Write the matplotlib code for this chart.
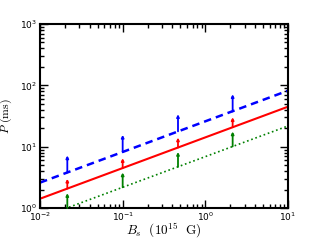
import numpy as np
import matplotlib
matplotlib.use("Agg")
import matplotlib.pyplot as plt

plt.rcParams['mathtext.fontset'] = 'cm'

# line end points (B_s in 1e15 G, P in ms)
B_LINE  = [0.01, 10.0]
P_BLUE  = [2.6, 82.0]
P_RED   = [1.42, 44.9]
P_GREEN = [0.69, 21.8]

# lower limits (arrows): position, base on line, tip
B_ARR      = [0.0214, 0.1, 0.467, 2.14]
BLUE_BASE  = [3.8, 8.2, 17.8, 37.5]
BLUE_TOP   = [7.2, 15.6, 33.8, 71.6]
RED_BASE   = [2.08, 4.49, 9.7, 20.8]
RED_TOP    = [3.0, 6.5, 14.1, 30.2]
GREEN_BASE = [1.0, 2.18, 4.7, 10.1]
GREEN_TOP  = [1.75, 3.8, 8.2, 17.7]

fig = plt.figure(figsize=(3.2, 2.4), dpi=100)
ax = fig.add_axes([0.125, 0.133, 0.775, 0.767])

ax.plot(B_LINE, P_BLUE, color='blue', ls='--', lw=1.8, dashes=(3, 2))
ax.plot(B_LINE, P_RED, color='red', ls='-', lw=1.5)
ax.plot(B_LINE, P_GREEN, color='green', ls=':', lw=1.2)

for base, top, c in [(BLUE_BASE, BLUE_TOP, 'blue'),
                     (RED_BASE, RED_TOP, 'red'),
                     (GREEN_BASE, GREEN_TOP, 'green')]:
    for b, p0, p1 in zip(B_ARR, base, top):
        ax.annotate('', xy=(b, p1), xytext=(b, p0),
                    arrowprops=dict(arrowstyle='-|>', color=c, lw=1.3,
                                    mutation_scale=3.5, shrinkA=0, shrinkB=0))

ax.set_xscale('log')
ax.set_yscale('log')
ax.set_xlim(1e-2, 1e1)
ax.set_ylim(1e0, 1e3)
ax.set_xlabel(r'$B_s\ \ (10^{15}\ \ {\rm G})$', fontsize=9.5)
ax.set_ylabel(r'$P\ ({\rm ms})$', fontsize=8.5)
ax.xaxis.set_label_coords(0.5, -0.065)
ax.yaxis.set_label_coords(-0.105, 0.5)
ax.tick_params(which='both', direction='in', top=True, right=True, labelsize=6.5, width=1, pad=2)
ax.tick_params(which='major', length=6)
ax.tick_params(which='minor', length=3)
for s in ax.spines.values():
    s.set_linewidth(1.5)

fig.savefig('out.png', dpi=100)
